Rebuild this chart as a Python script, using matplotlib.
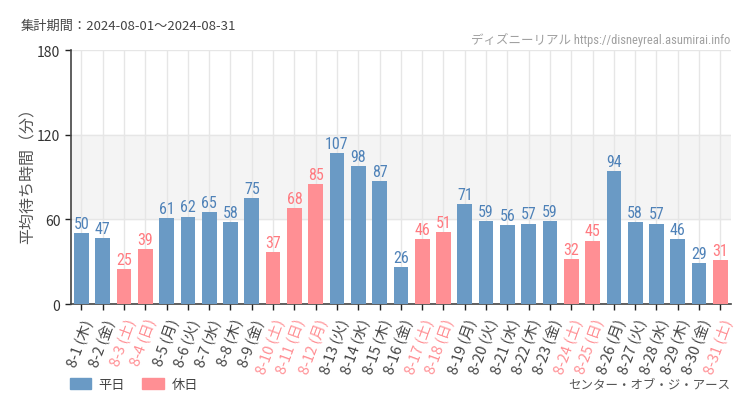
import matplotlib
matplotlib.use("Agg")
import matplotlib.pyplot as plt
from matplotlib.patches import Patch
from matplotlib import font_manager as fm

plt.rcParams['font.family'] = ['Noto Sans CJK JP', 'DejaVu Sans']

dates = ["8-1", "8-2", "8-3", "8-4", "8-5", "8-6", "8-7", "8-8", "8-9", "8-10",
         "8-11", "8-12", "8-13", "8-14", "8-15", "8-16", "8-17", "8-18", "8-19", "8-20",
         "8-21", "8-22", "8-23", "8-24", "8-25", "8-26", "8-27", "8-28", "8-29", "8-30", "8-31"]
weekdays = ["木", "金", "土", "日", "月", "火", "水", "木", "金", "土",
            "日", "月", "火", "水", "木", "金", "土", "日", "月", "火",
            "水", "木", "金", "土", "日", "月", "火", "水", "木", "金", "土"]
values = [50, 47, 25, 39, 61, 62, 65, 58, 75, 37, 68, 85, 107, 98, 87, 26, 46, 51,
          71, 59, 56, 57, 59, 32, 45, 94, 58, 57, 46, 29, 31]
holiday = [0, 0, 1, 1, 0, 0, 0, 0, 0, 1, 1, 1, 0, 0, 0, 0, 1, 1,
           0, 0, 0, 0, 0, 1, 1, 0, 0, 0, 0, 0, 1]
yticks = [0, 60, 120, 180]

BLUE = "#6a9ac5"
PINK = "#ff8f94"
BLUE_T = "#4f82b8"
PINK_T = "#ff7a80"

avail = {f.name for f in fm.fontManager.ttflist}
narrow = None
for cand in ["Roboto Condensed", "Liberation Sans Narrow", "DejaVu Sans Condensed"]:
    if cand in avail:
        narrow = cand
        break
narrow_fam = [narrow, 'Noto Sans CJK JP'] if narrow else ['DejaVu Sans']

fig = plt.figure(figsize=(7.5, 4.1), dpi=100)
ax = fig.add_axes([0.0943, 0.256, 0.8804, 0.6196])

x = list(range(len(values)))
colors = [PINK if h else BLUE for h in holiday]
ax.axhspan(60, 120, color="#f4f4f4", zorder=0)
bars = ax.bar(x, values, width=0.69, color=colors, zorder=3)

for xi, v, h in zip(x, values, holiday):
    ax.text(xi, v + 1.5, str(v), ha='center', va='bottom', fontsize=11.5,
            color=PINK_T if h else BLUE_T, family=narrow_fam, zorder=4)

ax.set_xlim(-0.5, len(values) - 0.5)
ax.set_ylim(0, 180)
ax.set_yticks(yticks)
ax.set_yticklabels([str(t) for t in yticks], fontsize=10, color="#333333")
ax.set_xticks(x)
ax.set_xticklabels([f"{d} ({w})" for d, w in zip(dates, weekdays)],
                   rotation=70, ha='right', va='top', rotation_mode='anchor', fontsize=10.5)
for lbl, h in zip(ax.get_xticklabels(), holiday):
    lbl.set_color(PINK if h else "#444444")

ax.grid(True, axis='both', color="#e6e6e6", linewidth=1, zorder=1)
ax.set_axisbelow(True)
for s in ["top", "right"]:
    ax.spines[s].set_visible(False)
for s in ["left", "bottom"]:
    ax.spines[s].set_color("#444444")
    ax.spines[s].set_linewidth(1.2)
ax.tick_params(axis='both', length=4, width=1, color="#222222")
ax.tick_params(axis='x', pad=5)

ax.set_ylabel("平均待ち時間（分）", fontsize=11.5, color="#555555")
ax.yaxis.set_label_coords(-0.052, 0.524)

fig.text(0.027, 0.935, "集計期間：2024-08-01～2024-08-31", fontsize=9.5, color="#444444",
         ha='left', va='center')
fig.text(0.974, 0.902, "ディズニーリアル https://disneyreal.asumirai.info", fontsize=9,
         color="#a0a0a0", ha='right', va='center', family=narrow_fam)
fig.text(0.974, 0.059, "センター・オブ・ジ・アース", fontsize=9, color="#555555",
         ha='right', va='center')

handles = [Patch(color=BLUE, label="平日"), Patch(color=PINK, label="休日")]
fig.legend(handles=handles, loc='center left', bbox_to_anchor=(0.093, 0.059), ncol=2,
           frameon=False, fontsize=9.5, handlelength=1.6, handleheight=0.85,
           columnspacing=1.3, handletextpad=0.6, labelcolor="#444444",
           borderpad=0, borderaxespad=0)

fig.savefig("out.png", dpi=100, facecolor="white")
